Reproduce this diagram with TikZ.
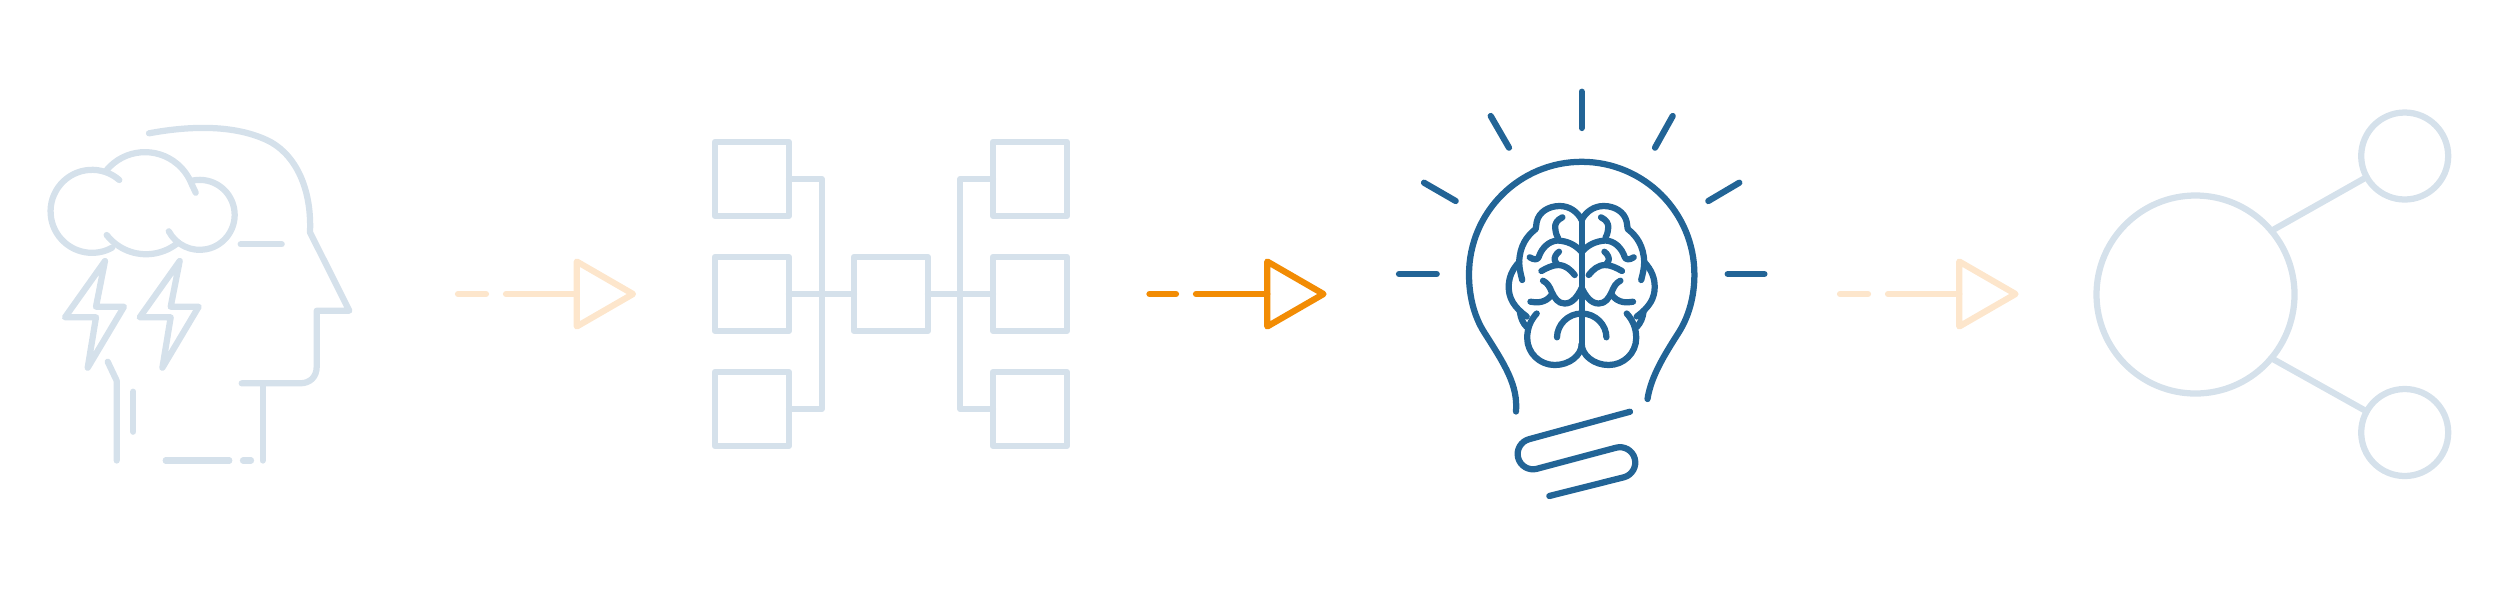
\documentclass[tikz,border=0pt]{standalone}
\usepackage{tikz}
\usetikzlibrary{positioning, shapes.geometric}
\definecolor{paleblue}{HTML}{D5E1EB}
\definecolor{paleorange}{HTML}{FDE6CC}
\definecolor{deeporange}{HTML}{F28C04}
\definecolor{deepblue}{HTML}{226496}

% One half of the brain, centre line at x = 0
\newcommand{\brainhalf}{
  \draw (0,220) .. controls (-4,212) and (-12,206) .. (-22,206) .. controls (-33,206) and (-43,212) .. (-45,222) -- (-46,229)
    .. controls (-55,236) and (-62,246) .. (-62.5,262) .. controls (-62.5,268) and (-61,274) .. (-59.5,280);
  \draw (-62.5,262) .. controls (-70,270) and (-73,278) .. (-73,287) .. controls (-73,298) and (-68,307) .. (-55,316.5);
  \draw (-62,311) .. controls (-61,318) and (-59,323) .. (-55,327);
  \draw (-45,313.5) .. controls (-51,320) and (-54.5,328) .. (-54.5,338) .. controls (-54.5,353) and (-42,365) .. (-27,365)
    .. controls (-12,365) and (0,355) .. (0,344);
  \draw (-19.3,217.3) .. controls (-25,220) and (-27,224) .. (-26.5,228) .. controls (-26,233) and (-25,236) .. (-23.7,238);
  \draw (-52,257.3) .. controls (-48,260) and (-44,260) .. (-43,257) .. controls (-40,248) and (-33,241) .. (-24,240.5)
    .. controls (-14,241) and (-6,245) .. (0,252);
  \draw (-22.7,251.7) .. controls (-26,254) and (-27.5,258) .. (-27,260) .. controls (-26.5,262) and (-25,264) .. (-23.7,265);
  \draw (-40.3,271) .. controls (-35,268) and (-29,265) .. (-23.7,265) .. controls (-16,265) and (-11,270) .. (-7,275);
  \draw (-38.7,280.7) .. controls (-34,283) and (-32,287) .. (-30,292) .. controls (-27,298) and (-24,303.5) .. (-17,303.5)
    .. controls (-9,303.5) and (-4,296) .. (0,288);
  \draw (-51.3,301.7) .. controls (-45,303) and (-36,303) .. (-30.3,295);
  \draw (-24.7,337.3) .. controls (-24.7,325) and (-14,313.5) .. (0,313.5);
}

\begin{document}
\begin{tikzpicture}[
  x=0.4pt, y=-0.4pt,
  line width=2.5pt, line cap=round, line join=round,
  box/.style={rectangle, draw=paleblue, minimum size=29.6pt, inner sep=0pt, outer sep=0pt},
  bigdot/.style={circle, draw=paleblue, minimum size=79.2pt, inner sep=0pt, outer sep=0pt},
  smalldot/.style={circle, draw=paleblue, minimum size=34.8pt, inner sep=0pt, outer sep=0pt},
  tri/.style={regular polygon, regular polygon sides=3, shape border rotate=-90, minimum size=30pt, inner sep=0pt, outer sep=0pt}
]
  \useasboundingbox (0,0) rectangle (2500,589);

  % Head with the storm cloud
  \begin{scope}[paleblue]
    \draw (149,133.3) .. controls (183,127) and (230,123) .. (266.7,140) .. controls (293,152) and (312,185) .. (310,232.3)
      -- (349.3,310.7) -- (316.7,310.7) -- (316.7,366.7) .. controls (316.7,377) and (310,383.3) .. (300,383.3) -- (241.7,383.3);
    \draw (262.7,383.3) -- (262.7,460.5);
    \draw (243,460.5) -- (251,460.5);
    \draw (165.7,460.5) -- (229.3,460.5);
    \draw (107.7,361.7) -- (116.7,380.7) -- (116.7,460.5);
    \draw (133.3,391.7) -- (133.3,431.7);
    \draw (240.7,244.3) -- (281.7,244.3);
    \draw (119.3,180) arc (-49:-299:41.5);
    \draw (106.7,170) arc (220:338:50) -- (195.7,192.7);
    \draw (193,180.5) arc (259:512:35);
    \draw (106.7,235) arc (142:50:50);
    \draw (105,261) -- (65,317.3) -- (96,317.3) -- (87.7,367.7) -- (124,306.7) -- (96,306.7) -- cycle;
    \draw (179.7,261) -- (139.7,317.3) -- (170.7,317.3) -- (162.4,367.7) -- (198.7,306.7) -- (170.7,306.7) -- cycle;
  \end{scope}

  % First arrow
  \node[tri, draw=paleorange] (tri1) at (595.5,294) {};
  \coordinate (dash1a) at (458,294);
  \coordinate (dash1b) at (486,294);
  \coordinate (dash1c) at (506,294);
  \draw[paleorange] (dash1a) -- (dash1b);
  \draw[paleorange] (dash1c) -- (tri1.west);

  % Boxes on the left, the one in the middle, boxes on the right
  \node[box] (lbox1) at (752,179) {};
  \node[box, below=16.4pt of lbox1] (lbox2) {};
  \node[box, below=16.4pt of lbox2] (lbox3) {};
  \node[box, right=26pt of lbox2] (mbox) {};
  \node[box, right=26pt of mbox] (rbox2) {};
  \node[box, above=16.4pt of rbox2] (rbox1) {};
  \node[box, below=16.4pt of rbox2] (rbox3) {};
  \coordinate (lbus) at (821.7,294);
  \coordinate (rbus) at (960.3,294);
  \draw[paleblue] (lbox1.east) -| (lbus) |- (lbox3.east);
  \draw[paleblue] (lbox2.east) -- (mbox.west);
  \draw[paleblue] (rbox1.west) -| (rbus) |- (rbox3.west);
  \draw[paleblue] (mbox.east) -- (rbox2.west);

  % Second arrow
  \node[tri, draw=deeporange] (tri2) at (1286,294) {};
  \coordinate (dash2a) at (1149.5,294);
  \coordinate (dash2b) at (1176,294);
  \coordinate (dash2c) at (1196,294);
  \draw[deeporange] (dash2a) -- (dash2b);
  \draw[deeporange] (dash2c) -- (tri2.west);

  % Bulb with rays, screw base and brain
  \begin{scope}[deepblue]
    \draw (1581.7,91.7) -- (1581.7,128);
    \draw (1490.7,116) -- (1509,147.7);
    \draw (1672.7,116) -- (1655,147.7);
    \draw (1424,182.7) -- (1455.7,201);
    \draw (1739.3,182.7) -- (1708.3,201);
    \draw (1399,274) -- (1436.7,274);
    \draw (1727.7,274) -- (1764.4,274);
    \draw (1516,411.5) .. controls (1518,385) and (1505,365) .. (1484,332) .. controls (1474,316) and (1469,296) .. (1469,274.5)
      arc (180:360:112.7) .. controls (1694.4,296) and (1689,316) .. (1679,332) .. controls (1665,354) and (1651,376) .. (1647.5,399);
    \draw (1630,411.7) -- (1529,439.2) arc (255:75:15.3) -- (1616,447.7) arc (255:435:15.3) -- (1549.3,496);
    \draw (1581.7,217) -- (1581.7,344);
    \begin{scope}[shift={(1581.7,0)}]
      \brainhalf
    \end{scope}
    \begin{scope}[shift={(1581.7,0)}, xscale=-1]
      \brainhalf
    \end{scope}
  \end{scope}

  % Third arrow
  \node[tri, draw=paleorange] (tri3) at (1978,294) {};
  \coordinate (dash3a) at (1840,294);
  \coordinate (dash3b) at (1868,294);
  \coordinate (dash3c) at (1888,294);
  \draw[paleorange] (dash3a) -- (dash3b);
  \draw[paleorange] (dash3c) -- (tri3.west);

  % One large circle and two small ones
  \node[bigdot] (hub) at (2195.5,294.5) {};
  \node[smalldot] (leaf1) at (2404.7,156) {};
  \node[smalldot] (leaf2) at (2404.7,432.5) {};
  \draw[paleblue] (hub.40) -- (leaf1.209);
  \draw[paleblue] (hub.-40) -- (leaf2.151);
\end{tikzpicture}
\end{document}
